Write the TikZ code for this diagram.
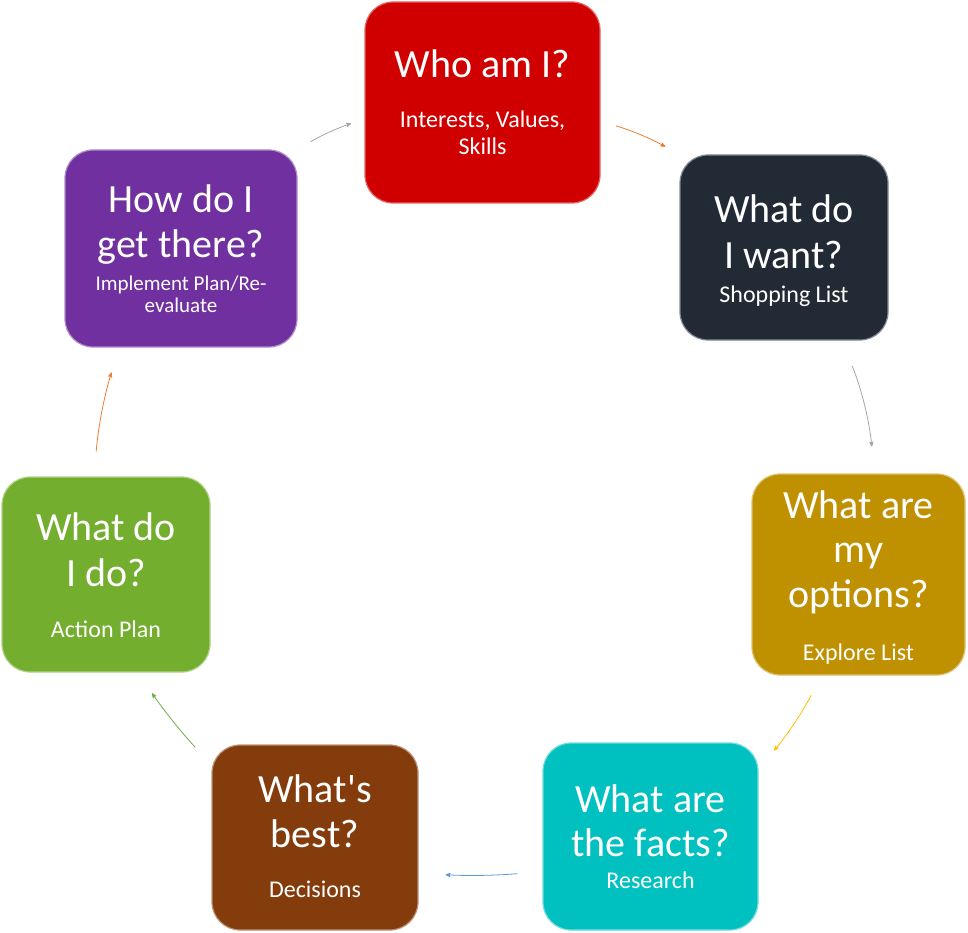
\documentclass[tikz,border=0pt]{standalone}
\usepackage{fontspec}
\setmainfont{Carlito}
\usepackage{tikz}
\usetikzlibrary{arrows}
\definecolor{whocol}{RGB}{208,0,0}
\definecolor{wantcol}{RGB}{34,42,53}
\definecolor{optcol}{RGB}{191,144,0}
\definecolor{factcol}{RGB}{0,192,192}
\definecolor{bestcol}{RGB}{132,60,12}
\definecolor{docol}{RGB}{115,174,46}
\definecolor{howcol}{RGB}{112,48,160}
\definecolor{arrgray}{RGB}{165,165,165}
\definecolor{arrorange}{RGB}{237,125,49}
\definecolor{arrgold}{RGB}{255,192,0}
\definecolor{arrblue}{RGB}{91,155,213}
\definecolor{arrgreen}{RGB}{112,173,71}
\tikzstyle{block} = [rectangle,rounded corners=28pt,line width=1.2pt,inner sep=0pt]
\tikzstyle{ttl} = [anchor=base,text=white,inner sep=0pt,font=\fontsize{40}{45}\selectfont]
\tikzstyle{sub} = [anchor=base,text=white,inner sep=0pt,font=\fontsize{24}{27}\selectfont]
\tikzstyle{connector} = [->,>=stealth',line width=0.8pt]

\begin{document}
\begin{tikzpicture}[x=1pt,y=-1pt]
  \useasboundingbox (0,0) rectangle (968,933);

  \node[block, fill=whocol, draw=whocol!60!white, minimum width=235pt, minimum height=201pt] (who) at (482.5,102.5) {};
  \node[ttl] (who-t) at (482.5,78) {Who am I?};
  \node[sub] (who-s1) at (482.5,128) {Interests, Values,};
  \node[sub] (who-s2) at (482.5,155) {Skills};

  \node[block, fill=wantcol, draw=wantcol!55!white, minimum width=208pt, minimum height=185pt] (want) at (784,247.5) {};
  \node[ttl] (want-t1) at (784,223) {What do};
  \node[ttl] (want-t2) at (784,268) {I want?};
  \node[sub] (want-s) at (784,302) {Shopping List};

  \node[block, fill=optcol, draw=optcol!55!white, minimum width=213pt, minimum height=201pt] (opt) at (858.5,574.5) {};
  \node[ttl] (opt-t1) at (858.5,518) {What are};
  \node[ttl] (opt-t2) at (858.5,562) {my};
  \node[ttl] (opt-t3) at (858.5,607) {options?};
  \node[sub] (opt-s) at (858.5,660) {Explore List};

  \node[block, fill=factcol, draw=factcol!55!white, minimum width=215pt, minimum height=187pt] (fact) at (650.5,836.5) {};
  \node[ttl] (fact-t1) at (650.5,812) {What are};
  \node[ttl] (fact-t2) at (650.5,856) {the facts?};
  \node[sub] (fact-s) at (650.5,888) {Research};

  \node[block, fill=bestcol, draw=bestcol!55!white, minimum width=206pt, minimum height=185pt] (best) at (315,837.5) {};
  \node[ttl] (best-t1) at (315,802) {What\textquotesingle s};
  \node[ttl] (best-t2) at (315,847) {best?};
  \node[sub] (best-s) at (315,897) {Decisions};

  \node[block, fill=docol, draw=docol!55!white, minimum width=208pt, minimum height=195pt] (do) at (106,574.5) {};
  \node[ttl] (do-t1) at (106,540) {What do};
  \node[ttl] (do-t2) at (106,586) {I do?};
  \node[sub] (do-s) at (106,637) {Action Plan};

  \node[block, fill=howcol, draw=howcol!55!white, minimum width=232pt, minimum height=197pt] (how) at (181,248.5) {};
  \node[ttl] (how-t1) at (181,213) {How do I};
  \node[ttl] (how-t2) at (181,258) {get there?};
  \node[sub, font=\fontsize{21}{22}\selectfont] (how-s1) at (181,290) {Implement Plan/Re-};
  \node[sub, font=\fontsize{21}{22}\selectfont] (how-s2) at (181,312) {evaluate};

% now link the nodes

\draw [connector, arrgray, shorten <=15pt, shorten >=14pt] (how.north east) to[bend left=6] (who.188);
\draw [connector, arrorange, shorten <=16pt, shorten >=16pt] (who.-9) to[bend left=6] (want.north west);
\draw [connector, arrgray, shorten <=27pt, shorten >=27pt] (want.-58) to[bend left=8] (opt.81.6);
\draw [connector, arrgold, shorten <=22pt, shorten >=24pt] (opt.250.4) to[bend left=6] (fact.32.9);
\draw [connector, arrblue, shorten <=25pt, shorten >=27pt] (fact.198.8) to[bend left=4] (best.-19);
\draw [connector, arrgreen, shorten <=24pt, shorten >=25pt] (best.145.2) to[bend left=4] (do.-72.4);
\draw [connector, arrorange, shorten <=25pt, shorten >=26pt] (do.97.8) to[bend left=6] (how.238.5);
\end{tikzpicture}
\end{document}
